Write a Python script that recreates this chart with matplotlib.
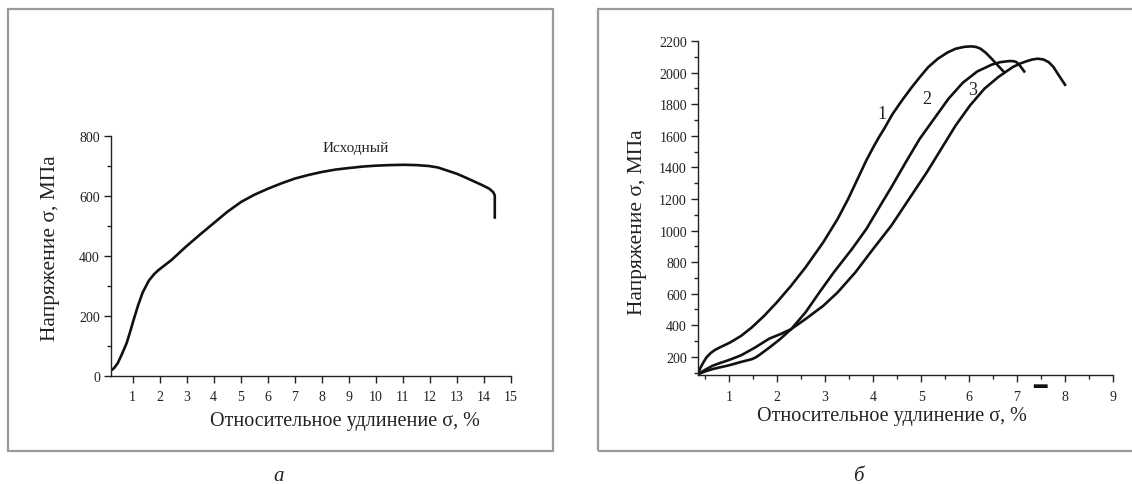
import matplotlib
matplotlib.use("Agg")
import matplotlib.pyplot as plt
from matplotlib.patches import Rectangle
from matplotlib.ticker import MultipleLocator
from matplotlib.transforms import blended_transform_factory

plt.rcParams['font.family'] = ['Liberation Serif', 'DejaVu Serif']

# ---- Panel a data ----
a_strain = [0.22, 0.32, 0.45, 0.6, 0.78, 0.9, 1.04, 1.2, 1.37, 1.6, 1.8, 1.97, 2.2, 2.43,
            2.96, 3.5, 4.02, 4.5, 5.01, 5.5, 6.0, 6.5, 7.0, 7.5, 8.0, 8.5,
            8.98, 9.5, 9.98, 10.5, 11.03, 11.5, 11.96, 12.3, 12.6, 13.0, 13.28, 13.6, 13.94,
            14.2, 14.34, 14.4, 14.4]
a_stress = [19, 27, 43, 72, 110, 145, 188, 235, 278, 318, 340, 354, 370, 386,
            430, 472, 511, 547, 580, 604, 624, 642, 658, 670, 680, 688,
            693, 698, 701, 703, 704, 703, 700, 695, 686, 674, 663, 650, 636,
            624, 613, 602, 524]
a_label = "Исходный"

# ---- Panel b data ----
c1_strain = [0.35, 0.4, 0.46, 0.53, 0.61, 0.70, 0.80, 1.02, 1.25, 1.47, 1.73, 1.99, 2.29,
             2.59, 2.96, 3.26, 3.48, 3.71, 3.86, 4.0, 4.12, 4.23, 4.4, 4.6, 4.8, 4.97,
             5.15, 5.35, 5.55, 5.72, 5.9, 6.05, 6.15, 6.24, 6.35, 6.47, 6.6, 6.73]
c1_stress = [90, 130, 164, 198, 223, 243, 259, 291, 333, 386, 460, 544, 650,
             766, 925, 1073, 1200, 1348, 1445, 1525, 1590, 1644, 1735, 1823, 1905, 1970,
             2035, 2088, 2127, 2151, 2163, 2166, 2162, 2151, 2125, 2088, 2045, 2003]
c2_strain = [0.35, 0.5, 0.65, 0.8, 0.95, 1.1, 1.25, 1.38, 1.47, 1.55, 1.62, 1.84, 2.06,
             2.29, 2.59, 2.88, 3.18, 3.56, 3.86, 4.15, 4.38, 4.68, 4.97, 5.27, 5.57,
             5.87, 6.17, 6.47, 6.65, 6.84, 6.93, 6.99, 7.07, 7.15]
c2_stress = [90, 108, 122, 133, 143, 155, 168, 178, 185, 196, 210, 259, 312,
             375, 481, 608, 735, 883, 1010, 1158, 1274, 1432, 1580, 1707, 1834,
             1936, 2007, 2050, 2066, 2073, 2072, 2066, 2040, 2007]
c3_strain = [0.35, 0.5, 0.65, 0.8, 0.95, 1.1, 1.25, 1.54, 1.84, 2.06, 2.29, 2.59, 2.96,
             3.26, 3.63, 4.0, 4.38, 4.75, 5.12, 5.42, 5.72, 6.02, 6.32, 6.61, 6.91,
             7.07, 7.21, 7.32, 7.43, 7.55, 7.66, 7.76, 7.85, 8.0]
c3_stress = [90, 118, 143, 160, 175, 192, 210, 259, 316, 343, 375, 439, 523,
             608, 735, 883, 1031, 1200, 1369, 1517, 1665, 1792, 1898, 1972, 2035,
             2058, 2073, 2083, 2088, 2083, 2066, 2035, 1992, 1923]
curve_labels = ["1", "2", "3"]
curve_label_pos = [(4.19, 1739), (5.12, 1834), (6.08, 1893)]

xlabel = "Относительное удлинение σ, %"
ylabel = "Напряжение σ, МПа"
a_xticks = list(range(1, 16))
a_yticks = [0, 200, 400, 600, 800]
b_xticks = list(range(1, 10))
b_yticks = list(range(200, 2201, 200))

W, H = 1132, 485
fig = plt.figure(figsize=(W / 100, H / 100), dpi=100)

def fx(px):
    return px / W

def fy(py):
    return 1 - py / H

# frames
for (x0, y0, x1, y1) in [(8, 10, 553, 452), (598, 10, 1145, 452)]:
    fig.patches.append(Rectangle((fx(x0), fy(y1)), fx(x1) - fx(x0), fy(y0) - fy(y1),
                                 transform=fig.transFigure, fill=False,
                                 edgecolor='#9a9a9a', linewidth=1.6, clip_on=False))

def style(ax):
    for s in ['top', 'right']:
        ax.spines[s].set_visible(False)
    for s in ['left', 'bottom']:
        ax.spines[s].set_linewidth(1.0)
        ax.spines[s].set_color('#222222')
    ax.tick_params(which='major', direction='out', length=5, width=1.0, labelsize=10,
                   colors='#222222', pad=3)
    ax.tick_params(which='minor', direction='out', length=3, width=1.0, colors='#222222')

# ---- Panel a ----
axa = fig.add_axes([fx(111), fy(377), fx(511) - fx(111), fy(137) - fy(377)])
axa.plot(a_strain, a_stress, color='#111111', linewidth=1.9, solid_capstyle='butt',
         solid_joinstyle='round')
axa.set_xlim(0.2, 15)
axa.set_ylim(0, 800)
axa.set_xticks(a_xticks)
axa.set_yticks(a_yticks)
axa.yaxis.set_minor_locator(MultipleLocator(100))
style(axa)
axa.tick_params(axis='x', which='major', pad=5)
axa.set_xlabel(xlabel, fontsize=14.5, color='#222222', va='center')
axa.xaxis.set_label_coords(0.585, -0.1875)
axa.set_ylabel(ylabel, fontsize=15.5, color='#222222', va='center')
axa.yaxis.set_label_coords(-0.15, 0.5375)
axa.text(9.24, 761, a_label, fontsize=11, ha='center', va='center', color='#222222')

# ---- Panel b ----
axb = fig.add_axes([fx(698), fy(376), fx(1113) - fx(698), fy(42) - fy(376)])
for xs, ys in [(c1_strain, c1_stress), (c2_strain, c2_stress), (c3_strain, c3_stress)]:
    axb.plot(xs, ys, color='#111111', linewidth=1.9, solid_joinstyle='round')
axb.set_xlim(0.35, 9)
axb.set_ylim(85, 2200)
axb.set_xticks(b_xticks)
axb.set_yticks(b_yticks)
axb.xaxis.set_minor_locator(MultipleLocator(0.5))
axb.yaxis.set_minor_locator(MultipleLocator(100))
style(axb)
axb.tick_params(axis='x', which='major', pad=6)
axb.set_xlabel(xlabel, fontsize=14.5, color='#222222', va='center')
axb.xaxis.set_label_coords(0.467, -0.12)
axb.set_ylabel(ylabel, fontsize=15.5, color='#222222', va='center')
axb.yaxis.set_label_coords(-0.145, 0.46)
for lab, (lx, ly) in zip(curve_labels, curve_label_pos):
    axb.text(lx, ly, lab, fontsize=13, ha='center', va='center', color='#222222')
tr = blended_transform_factory(axb.transData, axb.transAxes)
axb.text(7.47, -0.036, "━", transform=tr, fontsize=16, family='DejaVu Sans',
         ha='center', va='center', color='#111111')

# sub-labels
fig.text(fx(279), fy(477), "а", fontsize=15, style='italic', ha='center', va='center',
         color='#222222')
fig.text(fx(858), fy(477), "б", fontsize=15, style='italic', ha='center', va='center',
         color='#222222')

fig.savefig("out.png", dpi=100)
